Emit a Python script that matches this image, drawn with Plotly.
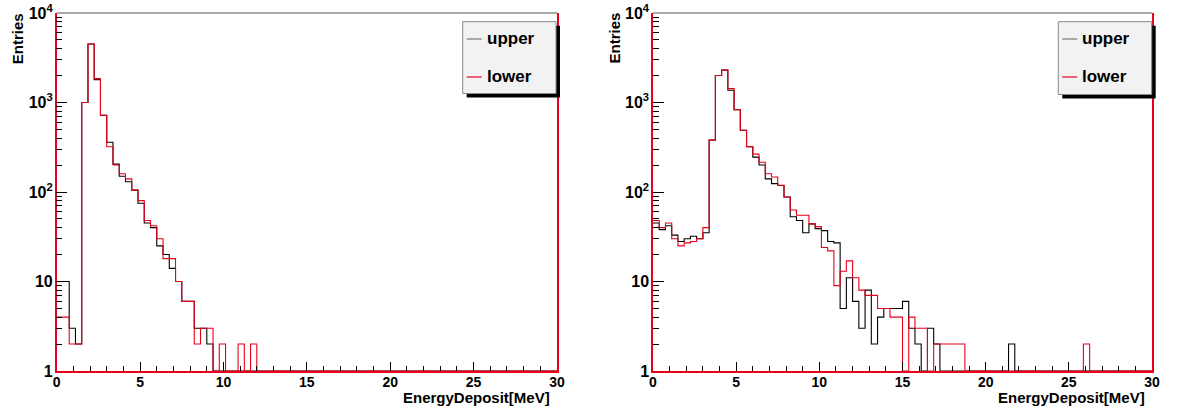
import numpy as np
import plotly.graph_objects as go

# ---------------- data (80 bins, 0-30 MeV) ----------------
bin_lo = 0.0
bin_hi = 30.0
n_bins = 80

left_upper = [10, 10, 3, 2, 1000, 4500, 1800, 720, 360, 205,
              150, 130, 105, 75, 45, 40, 25, 20, 14, 10,
              6, 6, 3, 3, 2, 0, 0, 0, 0, 0] + [0] * 50
left_lower = [4, 4, 2, 2, 1000, 4500, 1850, 720, 320, 200,
              160, 140, 105, 80, 48, 42, 30, 18, 18, 10,
              6, 6, 2, 3, 3, 0, 2, 0, 0, 2,
              0, 2] + [0] * 48

right_upper = [45, 38, 42, 33, 28, 30, 32, 30, 35, 380,
               2000, 2300, 1370, 830, 490, 320, 245, 200, 140, 124,
               118, 88, 53, 48, 35, 44, 39, 37, 28, 27,
               5, 11, 6, 3, 8, 2, 4, 5, 5, 5,
               6, 3, 2, 0, 3, 2, 0, 0, 0, 0,
               0, 0, 0, 0, 0, 0, 0, 2, 0, 0] + [0] * 20
right_lower = [48, 40, 45, 30, 25, 27, 28, 30, 40, 380,
               2000, 2300, 1430, 830, 490, 320, 265, 215, 160, 147,
               119, 88, 63, 55, 55, 44, 41, 24, 22, 9,
               13, 17, 11, 8, 7, 7, 5, 5, 4, 4,
               0, 4, 3, 3, 0, 2, 2, 2, 2, 2,
               0, 0, 0, 0, 0, 0, 0, 0, 0, 0,
               0, 0, 0, 0, 0, 0, 0, 0, 0, 2] + [0] * 10

series_names = ["upper", "lower"]
x_title = "EnergyDeposit[MeV]"
y_title = "Entries"
x_tickvals = [0, 5, 10, 15, 20, 25, 30]
y_tickvals = [1, 10, 100, 1000, 10000]
y_ticktext = ["1", "10", "10<sup>2</sup>", "10<sup>3</sup>", "10<sup>4</sup>"]

# ---------------- style ----------------
W, H = 1204, 414
C_UP = "#000000"
C_LO = "#e8001c"
FONT = "Liberation Sans"
dom_y = [43 / H, 1 - 13 / H]
dom_x1 = [56.7 / W, 557 / W]
dom_x2 = [653 / W, 1152 / W]

edges = np.linspace(bin_lo, bin_hi, n_bins + 1)


def step_y(counts):
    c = np.clip(np.asarray(counts, dtype=float), 1, None)
    return np.append(c, c[-1])


fig = go.Figure()
panels = [(left_upper, left_lower, "x", "y"), (right_upper, right_lower, "x2", "y2")]
for up, lo, xa, ya in panels:
    for counts, col, nm in [(up, C_UP, series_names[0]), (lo, C_LO, series_names[1])]:
        fig.add_trace(go.Scatter(x=edges, y=step_y(counts), mode="lines",
                                 line=dict(color=col, width=1.1, shape="hv"),
                                 name=nm, showlegend=False, xaxis=xa, yaxis=ya,
                                 cliponaxis=True))

xtickfont = dict(family=FONT, size=14, color="#000", weight="bold")
ytickfont = dict(family=FONT, size=16, color="#000", weight="bold")
xcommon = dict(range=[0, 30], tickvals=x_tickvals, ticks="inside", ticklen=9,
               tickcolor="#000", showgrid=False, zeroline=False, automargin=False,
               showline=True, linecolor=C_LO, linewidth=1.5,
               tickfont=xtickfont, ticklabelstandoff=-3,
               minor=dict(dtick=1, ticks="inside", ticklen=5, tickcolor="#000", showgrid=False))
ycommon = dict(type="log", range=[0, 4], tickvals=y_tickvals, ticktext=y_ticktext,
               ticks="inside", ticklen=11, tickcolor="#000", showgrid=False, automargin=False,
               zeroline=False, showline=True, linecolor=C_LO, linewidth=1.5, mirror=True,
               tickfont=ytickfont, ticklabelstandoff=-1,
               minor=dict(ticks="inside", ticklen=6, tickcolor="#000", dtick="D1", showgrid=False))

fig.update_layout(
    width=W, height=H, margin=dict(l=0, r=0, t=0, b=0, autoexpand=False),
    paper_bgcolor="white", plot_bgcolor="white", showlegend=False,
    xaxis=dict(domain=dom_x1, anchor="y", **xcommon),
    yaxis=dict(domain=dom_y, anchor="x", **ycommon),
    xaxis2=dict(domain=dom_x2, anchor="y2", **xcommon),
    yaxis2=dict(domain=dom_y, anchor="x2", **ycommon),
)

ann = []
shapes = []
legend_boxes = [
    ("x", "y", 462.7, 556, 21.7, 93.5),
    ("x2", "y2", 1058.3, 1151.7, 21.7, 94.5),
]
px = lambda v: v / W
py = lambda v: 1 - v / H
for i, (xa, ya, bx0, bx1, by0, by1) in enumerate(legend_boxes):
    dx = dom_x1 if i == 0 else dom_x2
    shapes.append(dict(type="line", xref=f"{xa} domain", yref=f"{ya} domain",
                       x0=0, x1=1, y0=1, y1=1, line=dict(color="#555", width=1.2)))
    ann.append(dict(text=x_title, xref="paper", yref="paper",
                    x=dx[1] - 5 / W, y=py(397), xanchor="right", yanchor="middle",
                    showarrow=False, font=dict(family=FONT, size=15, color="#000", weight="bold")))
    ann.append(dict(text=y_title, xref="paper", yref="paper", textangle=-90,
                    x=px(dx[0] * W - 39), y=py(11), xanchor="center", yanchor="top",
                    showarrow=False, font=dict(family=FONT, size=15, color="#000", weight="bold")))
    shapes.append(dict(type="rect", xref="paper", yref="paper",
                       x0=px(bx0 + 4), x1=px(bx1 + 4), y0=py(by1 + 4), y1=py(by0 + 4),
                       fillcolor="#000", line=dict(width=0)))
    shapes.append(dict(type="rect", xref="paper", yref="paper",
                       x0=px(bx0), x1=px(bx1), y0=py(by1), y1=py(by0),
                       fillcolor="#f2f2f2", line=dict(color="#888", width=1)))
    for j, (nm, col, yy) in enumerate([(series_names[0], "#777", 39), (series_names[1], C_LO, 77)]):
        shapes.append(dict(type="line", xref="paper", yref="paper",
                           x0=px(bx0 + 4), x1=px(bx0 + 19), y0=py(yy), y1=py(yy),
                           line=dict(color=col, width=1.2)))
        ann.append(dict(text=nm, xref="paper", yref="paper", x=px(bx0 + 22), y=py(yy),
                        xanchor="left", yanchor="middle", showarrow=False,
                        font=dict(family=FONT, size=17, color="#000", weight="bold")))

fig.update_layout(annotations=ann, shapes=shapes)
fig.write_html("out.html")
